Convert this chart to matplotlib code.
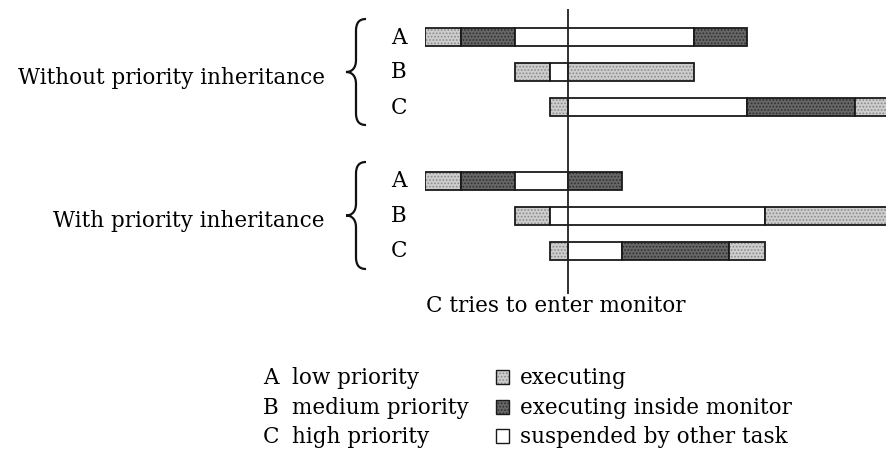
import matplotlib
matplotlib.use('Agg')
import matplotlib.pyplot as plt
from matplotlib.patches import Rectangle, PathPatch
from matplotlib.path import Path

plt.rcParams['font.family'] = ['DejaVu Serif']
plt.rcParams['hatch.linewidth'] = 0.8

# Dados: (inicio, duracao, estado) para cada tarefa
# estados: 'exec' = executando, 'mon' = executando dentro do monitor,
#          'susp' = suspensa por outra tarefa
tarefas = ['A', 'B', 'C']
sem_heranca_A = [(0, 2, 'exec'), (2, 3, 'mon'), (5, 10, 'susp'), (15, 3, 'mon')]
sem_heranca_B = [(5, 2, 'exec'), (7, 1, 'susp'), (8, 7, 'exec')]
sem_heranca_C = [(7, 1, 'exec'), (8, 10, 'susp'), (18, 6, 'mon'), (24, 4, 'exec')]
com_heranca_A = [(0, 2, 'exec'), (2, 3, 'mon'), (5, 3, 'susp'), (8, 3, 'mon')]
com_heranca_B = [(5, 2, 'exec'), (7, 12, 'susp'), (19, 9, 'exec')]
com_heranca_C = [(7, 1, 'exec'), (8, 3, 'susp'), (11, 6, 'mon'), (17, 2, 'exec')]
tempo_monitor = 8

grupos = ['Without priority inheritance', 'With priority inheritance']
prioridades = ['low priority', 'medium priority', 'high priority']
estados = ['exec', 'mon', 'susp']
nomes_estados = ['executing', 'executing inside monitor', 'suspended by other task']

# Estilos de cada estado: (cor de fundo, hachura, cor da hachura)
estilo = {
    'exec': ('#cdcdcd', '.....', '#8a8a8a'),
    'mon': ('#666666', '.....', '#303030'),
    'susp': ('white', None, 'white'),
}

W, H = 886, 464
fig = plt.figure(figsize=(W / 100, H / 100), dpi=100)

# Eixo das barras: t=0 em x=425 px, 17.9 px por unidade de tempo
px_unidade = 17.9
px_linha = 35.0
ax = fig.add_axes([425 / W, (H - 300) / H, (W - 425) / W, 300 / H])
ax.set_xlim(0, (W - 425) / px_unidade)
ax.set_ylim((300 - 38) / px_linha, -38 / px_linha)
ax.axis('off')

linhas = [sem_heranca_A, sem_heranca_B, sem_heranca_C,
          com_heranca_A, com_heranca_B, com_heranca_C]
posicoes = [0, 1, 2, 4.1, 5.1, 6.1]
altura = 18 / px_linha

for y, segmentos in zip(posicoes, linhas):
    for inicio, dur, est in segmentos:
        fc, hatch, hc = estilo[est]
        ax.barh(y, dur, left=inicio, height=altura, color=fc, hatch=hatch,
                edgecolor=hc, linewidth=0)
        ax.barh(y, dur, left=inicio, height=altura, fill=False,
                edgecolor='#1a1a1a', linewidth=1.3)

# Linha vertical: C tenta entrar no monitor
ax.vlines(tempo_monitor, (10 - 38) / px_linha, (295 - 38) / px_linha,
          color='#222222', linewidth=1.3)

# Eixo de sobreposicao em pixels para textos e chaves
ov = fig.add_axes([0, 0, 1, 1], zorder=-1)
ov.set_xlim(0, W)
ov.set_ylim(H, 0)
ov.axis('off')

fs = 15.5


def chave(x, y0, y1):
    m = (y0 + y1) / 2
    verts = [(x + 10, y0), (x + 3, y0), (x, y0 + 4), (x, y0 + 12),
             (x, m - 12),
             (x, m - 4), (x - 4, m), (x - 10, m),
             (x - 4, m), (x, m + 4), (x, m + 12),
             (x, y1 - 12),
             (x, y1 - 4), (x + 3, y1), (x + 10, y1)]
    codes = [Path.MOVETO, Path.CURVE4, Path.CURVE4, Path.CURVE4,
             Path.LINETO,
             Path.CURVE4, Path.CURVE4, Path.CURVE4,
             Path.CURVE4, Path.CURVE4, Path.CURVE4,
             Path.LINETO,
             Path.CURVE4, Path.CURVE4, Path.CURVE4]
    ov.add_patch(PathPatch(Path(verts, codes), fill=False,
                           edgecolor='#111111', linewidth=1.6))


grupo_y = [(20, 126), (163, 270)]
linha_px = [[38, 72, 108], [181, 216, 251]]
for nome, (y0, y1), ys in zip(grupos, grupo_y, linha_px):
    chave(356, y0, y1)
    ov.text(325, (y0 + y1) / 2 + 5, nome, ha='right', va='center', fontsize=fs)
    for t, yy in zip(tarefas, ys):
        ov.text(399, yy, t, ha='center', va='center', fontsize=fs)

ov.text(686, 306, 'C tries to enter monitor', ha='right', va='center',
        fontsize=fs)

# Legenda
leg_y = [378, 408, 437]
for t, p, yy in zip(tarefas, prioridades, leg_y):
    ov.text(263, yy, t, ha='left', va='center', fontsize=fs)
    ov.text(292, yy, p, ha='left', va='center', fontsize=fs)

for est, nome, yy in zip(estados, nomes_estados, leg_y):
    fc, hatch, hc = estilo[est]
    ov.add_patch(Rectangle((496, yy - 7), 13, 14, facecolor=fc, hatch=hatch,
                           edgecolor=hc, linewidth=0))
    ov.add_patch(Rectangle((496, yy - 7), 13, 14, fill=False,
                           edgecolor='#1a1a1a', linewidth=1.0))
    ov.text(520, yy, nome, ha='left', va='center', fontsize=fs)

fig.savefig('out.png', dpi=100, facecolor='white')
